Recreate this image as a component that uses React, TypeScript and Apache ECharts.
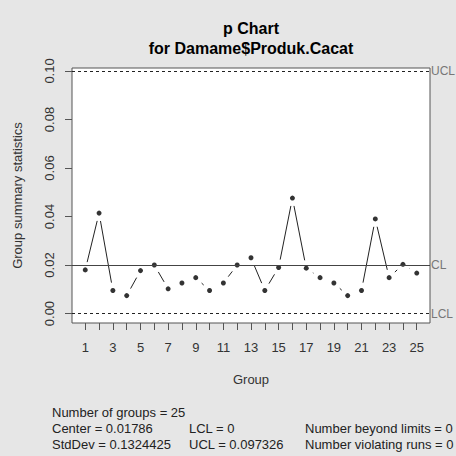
import React, { useEffect, useRef } from "react";
import * as echarts from "echarts";

const groups = [1, 2, 3, 4, 5, 6, 7, 8, 9, 10, 11, 12, 13, 14, 15, 16, 17, 18, 19, 20, 21, 22, 23, 24, 25];
const proportions = [
  0.018, 0.0414, 0.0095, 0.0074, 0.0177, 0.02, 0.0102, 0.0126, 0.0148, 0.0095,
  0.0126, 0.02, 0.023, 0.0095, 0.019, 0.0476, 0.0187, 0.0148, 0.0126, 0.0074,
  0.0095, 0.039, 0.0148, 0.0203, 0.0167,
];
const centerLine = 0.01786;
const ucl = 0.097326;
const lcl = 0;
const yTicks = [0, 0.02, 0.04, 0.06, 0.08, 0.1];
const xLabelTicks = [1, 3, 5, 7, 9, 11, 13, 15, 17, 19, 21, 23, 25];
const titleLines = ["p Chart", "for Damame$Produk.Cacat"];
const statsCol1 = ["Number of groups = 25", "Center = 0.01786", "StdDev = 0.1324425"];
const statsCol2 = ["", "LCL = 0", "UCL = 0.097326"];
const statsCol3 = ["", "Number beyond limits = 0", "Number violating runs = 0"];

const FONT = "'Liberation Sans', Arial, sans-serif";

export default function App() {
  const ref = useRef<HTMLDivElement>(null);
  useEffect(() => {
    if (!ref.current) return;
    const chart = echarts.init(ref.current, null, { renderer: "svg" });
    const yRange = ucl - lcl;
    const yMin = lcl - yRange * 0.04;
    const yMax = ucl + yRange * 0.04;
    const xMin = groups[0] - (groups.length - 1) * 0.04;
    const xMax = groups[groups.length - 1] + (groups.length - 1) * 0.04;
    const segData = proportions.slice(0, -1).map((v, i) => [groups[i], v, groups[i + 1], proportions[i + 1]]);
    const GAP = 8;
    const statTexts: any[] = [];
    const cols = [statsCol1, statsCol2, statsCol3];
    const colX = [52, 189, 305];
    cols.forEach((col, ci) =>
      col.forEach((t, li) => {
        if (!t) return;
        statTexts.push({
          type: "text",
          x: colX[ci],
          y: 412 + li * 16,
          style: { text: t, fill: "#222", font: `13px ${FONT}`, textAlign: "left", textVerticalAlign: "middle" },
        });
      })
    );
    chart.setOption({
      animation: false,
      backgroundColor: "#e6e6e6",
      textStyle: { fontFamily: FONT },
      grid: {
        left: 72,
        right: 26,
        top: 68,
        bottom: 133,
        show: true,
        backgroundColor: "#ffffff",
        borderColor: "#555",
        borderWidth: 1,
      },
      xAxis: {
        type: "value",
        min: xMin,
        max: xMax,
        name: "Group",
        nameLocation: "middle",
        nameGap: 50,
        nameTextStyle: { color: "#333", fontSize: 13, fontFamily: FONT },
        axisLine: { show: false, onZero: false },
        splitLine: { show: false },
        axisTick: { show: true, customValues: groups, length: 7, lineStyle: { color: "#555" } },
        axisLabel: { customValues: xLabelTicks, color: "#333", fontSize: 13, margin: 18, fontFamily: FONT },
      },
      yAxis: {
        type: "value",
        min: yMin,
        max: yMax,
        name: "Group summary statistics",
        nameLocation: "middle",
        nameRotate: 90,
        nameGap: 48,
        nameTextStyle: { color: "#333", fontSize: 13, fontFamily: FONT },
        axisLine: { show: false, onZero: false },
        splitLine: { show: false },
        axisTick: { show: true, customValues: yTicks, length: 7, lineStyle: { color: "#555" } },
        axisLabel: {
          customValues: yTicks,
          rotate: 90,
          color: "#333",
          fontSize: 13,
          margin: 16,
          fontFamily: FONT,
          formatter: (v: number) => v.toFixed(2),
        },
      },
      graphic: [
        {
          type: "text",
          x: 251,
          y: 28,
          style: { text: titleLines[0], fill: "#000", font: `bold 16px ${FONT}`, textAlign: "center", textVerticalAlign: "middle" },
        },
        {
          type: "text",
          x: 251,
          y: 48,
          style: { text: titleLines[1], fill: "#000", font: `bold 16px ${FONT}`, textAlign: "center", textVerticalAlign: "middle" },
        },
        ...statTexts,
      ],
      series: [
        {
          type: "custom",
          data: segData,
          encode: { x: [0, 2], y: [1, 3] },
          silent: true,
          z: 2,
          renderItem: (params: any, api: any) => {
            const p1 = api.coord([api.value(0), api.value(1)]);
            const p2 = api.coord([api.value(2), api.value(3)]);
            const dx = p2[0] - p1[0];
            const dy = p2[1] - p1[1];
            const len = Math.sqrt(dx * dx + dy * dy);
            if (len <= 2 * GAP) return null;
            const ux = dx / len;
            const uy = dy / len;
            return {
              type: "line",
              shape: {
                x1: p1[0] + ux * GAP,
                y1: p1[1] + uy * GAP,
                x2: p2[0] - ux * GAP,
                y2: p2[1] - uy * GAP,
              },
              style: { stroke: "#222", lineWidth: 1 },
            };
          },
        },
        {
          type: "scatter",
          data: groups.map((g, i) => [g, proportions[i]]),
          symbol: "circle",
          symbolSize: 5,
          itemStyle: { color: "#000" },
          silent: true,
          z: 3,
          markLine: {
            silent: true,
            symbol: "none",
            animation: false,
            label: {
              show: true,
              position: "end",
              distance: 1,
              color: "#777",
              fontSize: 12,
              fontFamily: FONT,
              formatter: (p: any) => p.name,
            },
            data: [
              { name: "UCL", yAxis: ucl, lineStyle: { color: "#222", type: [3, 3], width: 1 } },
              { name: "CL", yAxis: centerLine, lineStyle: { color: "#444", type: "solid", width: 1 } },
              { name: "LCL", yAxis: lcl, lineStyle: { color: "#222", type: [3, 3], width: 1 } },
            ],
          },
        },
      ],
    });
    return () => chart.dispose();
  }, []);
  return <div ref={ref} style={{ position: "fixed", left: 0, top: 0, width: 456, height: 456 }} />;
}
